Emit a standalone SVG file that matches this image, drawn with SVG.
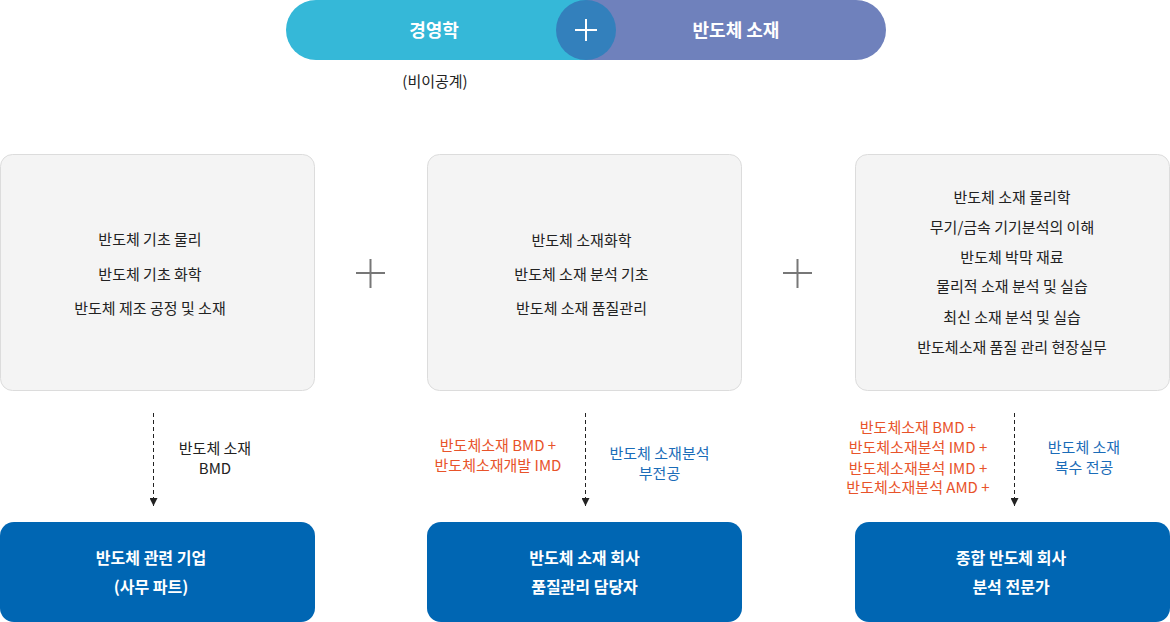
<svg xmlns="http://www.w3.org/2000/svg" width="1170" height="622" viewBox="0 0 1170 622">
<defs>
<style>
text{font-family:"Noto Sans CJK KR","Noto Sans",sans-serif;text-anchor:middle;}
.top{font-size:18px;font-weight:bold;fill:#fff;}
.sub{font-size:15px;fill:#222;}
.box{fill:#f4f4f4;stroke:#dcdcdc;stroke-width:1;}
.bt{font-size:15px;fill:#222;}
.res{fill:#0066b3;}
.rt{font-size:16px;font-weight:bold;fill:#fff;}
.or{font-size:15px;fill:#e8532a;}
.bl{font-size:15px;fill:#1a6cb8;}
.lb{font-size:15px;fill:#222;}
.dash{stroke:#222;stroke-width:1;stroke-dasharray:4 3;fill:none;}
.plus{stroke:#777;stroke-width:2;}
</style>
<marker id="ah" viewBox="0 0 10 10" refX="10" refY="5" markerWidth="8" markerHeight="8" markerUnits="userSpaceOnUse" orient="auto"><path d="M0,0 L10,5 L0,10 z" fill="#222"/></marker>
</defs>
<g id="header">
<path d="M316,0 H586 V60 H316 A30,30 0 0 1 316,0 Z" fill="#35b8d8"/>
<path d="M586,0 H856 A30,30 0 0 1 856,60 H586 Z" fill="#6f81bc"/>
<circle cx="586" cy="30" r="30" fill="#3380bc"/>
<line x1="575" y1="30" x2="597" y2="30" stroke="#fff" stroke-width="2"/>
<line x1="586" y1="19" x2="586" y2="41" stroke="#fff" stroke-width="2"/>
<text class="top" x="434" y="37">경영학</text>
<text class="top" x="736" y="37">반도체 소재</text>
<text class="sub" x="435" y="87">(비이공계)</text>
</g>
<g id="course1">
<rect class="box" x="0.5" y="154.5" width="314" height="236" rx="12"/>
<text class="bt" x="150" y="245">반도체 기초 물리</text>
<text class="bt" x="150" y="280">반도체 기초 화학</text>
<text class="bt" x="150" y="314">반도체 제조 공정 및 소재</text>
</g>
<g id="plus1"><line class="plus" x1="356" y1="273" x2="385" y2="273"/><line class="plus" x1="370.5" y1="259" x2="370.5" y2="288"/></g>
<g id="course2">
<rect class="box" x="427.5" y="154.5" width="314" height="236" rx="12"/>
<text class="bt" x="581.5" y="246">반도체 소재화학</text>
<text class="bt" x="581.5" y="280">반도체 소재 분석 기초</text>
<text class="bt" x="581.5" y="314">반도체 소재 품질관리</text>
</g>
<g id="plus2"><line class="plus" x1="783" y1="273" x2="812" y2="273"/><line class="plus" x1="797.5" y1="259" x2="797.5" y2="288"/></g>
<g id="course3">
<rect class="box" x="855.5" y="154.5" width="314" height="236" rx="12"/>
<text class="bt" x="1012" y="203">반도체 소재 물리학</text>
<text class="bt" x="1012" y="233">무기/금속 기기분석의 이해</text>
<text class="bt" x="1012" y="263">반도체 박막 재료</text>
<text class="bt" x="1012" y="292">물리적 소재 분석 및 실습</text>
<text class="bt" x="1012" y="323">최신 소재 분석 및 실습</text>
<text class="bt" x="1012" y="353">반도체소재 품질 관리 현장실무</text>
</g>
<g id="connectors">
<line class="dash" x1="153.5" y1="413" x2="153.5" y2="506" marker-end="url(#ah)"/>
<line class="dash" x1="585.5" y1="413" x2="585.5" y2="506" marker-end="url(#ah)"/>
<line class="dash" x1="1014.5" y1="413" x2="1014.5" y2="506" marker-end="url(#ah)"/>
</g>
<g id="labels">
<text class="lb" x="215" y="453.5">반도체 소재</text>
<text class="lb" x="215" y="473.5">BMD</text>
<text class="or" x="498" y="450.5">반도체소재 BMD +</text>
<text class="or" x="498" y="470.5">반도체소재개발 IMD</text>
<text class="bl" x="659.5" y="458.5">반도체 소재분석</text>
<text class="bl" x="659.5" y="478.5">부전공</text>
<text class="or" x="918" y="432.5">반도체소재 BMD +</text>
<text class="or" x="918" y="453">반도체소재분석 IMD +</text>
<text class="or" x="918" y="473.5">반도체소재분석 IMD +</text>
<text class="or" x="918" y="493">반도체소재분석 AMD +</text>
<text class="bl" x="1084" y="452.5">반도체 소재</text>
<text class="bl" x="1084" y="472.5">복수 전공</text>
</g>
<g id="result1">
<rect class="res" x="0" y="522" width="315" height="100" rx="14"/>
<text class="rt" x="151" y="564">반도체 관련 기업</text>
<text class="rt" x="151" y="593">(사무 파트)</text>
</g>
<g id="result2">
<rect class="res" x="427" y="522" width="315" height="100" rx="14"/>
<text class="rt" x="584.5" y="564">반도체 소재 회사</text>
<text class="rt" x="584.5" y="593">품질관리 담당자</text>
</g>
<g id="result3">
<rect class="res" x="855" y="522" width="315" height="100" rx="14"/>
<text class="rt" x="1011" y="564">종합 반도체 회사</text>
<text class="rt" x="1011" y="593">분석 전문가</text>
</g>
</svg>
